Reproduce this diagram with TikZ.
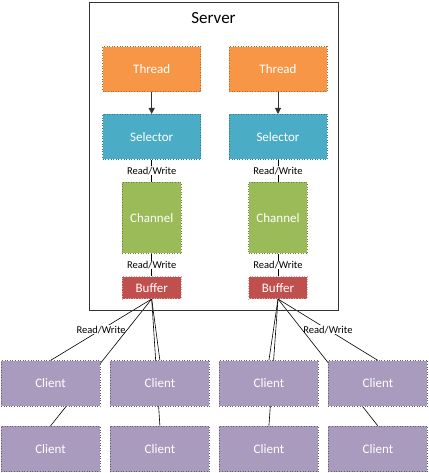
\documentclass[tikz,border=0pt]{standalone}
\usepackage{fontspec}
\setmainfont{Carlito}
\usetikzlibrary{backgrounds,arrows.meta}
\definecolor{thrc}{HTML}{F79646}
\definecolor{selc}{HTML}{4BACC6}
\definecolor{chac}{HTML}{9BBB59}
\definecolor{bufc}{HTML}{C0504D}
\definecolor{clic}{HTML}{A99BBD}
\tikzset{
  box/.style={rectangle, dotted, line width=0.6pt, text=white, font=\fontsize{13}{15}\selectfont, inner sep=0pt},
  thrbox/.style={box, fill=thrc, draw=thrc!70!black, minimum width=98pt, minimum height=45pt},
  selbox/.style={box, fill=selc, draw=selc!70!black, minimum width=98pt, minimum height=45pt},
  chabox/.style={box, fill=chac, draw=chac!70!black, minimum width=58.7pt, minimum height=71pt},
  bufbox/.style={box, fill=bufc, draw=bufc!50!white, minimum width=58.7pt, minimum height=22pt},
  clibox/.style={box, fill=clic, draw=clic!60!black, minimum width=99pt, minimum height=45.3pt},
  rw/.style={fill=white, inner sep=0.5pt, font=\fontsize{10.5}{12}\selectfont, text=black},
  link/.style={draw=black, line width=0.6pt},
  arr/.style={draw=black!80, line width=1pt, -{Triangle[length=6pt,width=6pt]}}
}
\begin{document}
\begin{tikzpicture}[x=1pt,y=-1pt]
\useasboundingbox (0,0) rectangle (428,473);
\node[draw=black!80, line width=0.8pt, minimum width=249pt, minimum height=308pt, inner sep=0pt] (server) at (213.8,156) {};
\node[font=\fontsize{17}{20}\selectfont] (srvlabel) at (213.5,18) {Server};

\foreach \n/\x in {L/151.7, R/278}{
  \node[thrbox] (thr\n) at (\x,69.2) {Thread};
  \node[selbox] (sel\n) at (\x,136.8) {Selector};
  \node[chabox] (cha\n) at (\x,217.8) {Channel};
  \node[bufbox] (buf\n) at (\x,287.7) {Buffer};
  \draw[arr] (thr\n) -- (sel\n);
  \draw[link] (sel\n) -- node[rw] {Read/Write} (cha\n);
  \draw[link] (cha\n) -- node[rw] {Read/Write} (buf\n);
}

\foreach \n/\x in {1/50.5, 2/159.9, 3/268.9, 4/377.9}{
  \node[clibox] (cu\n) at (\x,383.4) {Client};
  \node[clibox] (cd\n) at (\x,448.9) {Client};
}

\begin{scope}[on background layer]
  \draw[link] (bufL.south) -- node[rw] {Read/Write} (cu1.north);
  \draw[link] (bufL.south) -- (cd1.north);
  \draw[link] (bufL.south) -- (cu2.north);
  \draw[link] (bufL.south) -- (cd2.north);
  \draw[link] (bufR.south) -- (cu3.north);
  \draw[link] (bufR.south) -- (cd3.north);
  \draw[link] (bufR.south) -- node[rw] {Read/Write} (cu4.north);
  \draw[link] (bufR.south) -- (cd4.north);
\end{scope}
\end{tikzpicture}
\end{document}
